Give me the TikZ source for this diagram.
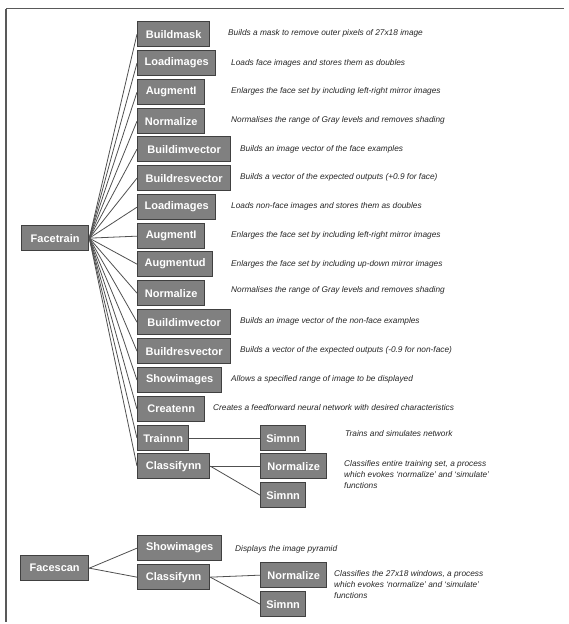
\documentclass[tikz,border=0pt]{standalone}
\usepackage{fontspec}
\setmainfont{Liberation Sans}
\definecolor{boxfill}{HTML}{808080}
\definecolor{boxline}{HTML}{404040}
\definecolor{wire}{HTML}{505050}
\begin{document}
\begin{tikzpicture}[x=1pt,y=-1pt,
  fbox/.style={draw=boxline,fill=boxfill,line width=1.3pt,text=white,
    font=\fontsize{11}{12}\selectfont\bfseries,inner sep=0pt,
    minimum height=25pt,anchor=north west},
  desc/.style={font=\fontsize{8.3}{11}\selectfont\itshape,anchor=west,inner sep=0pt,align=left,text=black!85},
  wirel/.style={draw=wire,line width=0.8pt}]
\useasboundingbox (0,0) rectangle (568,624);
\draw[gray!70!black,line width=1.2pt] (6,8.5) -- (564,8.5);
\draw[gray!70!black,line width=1.2pt] (6,8.5) -- (6,622);
% root nodes
\node[fbox,minimum width=67pt] (ft) at (21,225) {Facetrain};
\node[fbox,minimum width=68pt] (fs) at (20,555) {Facescan};
% facetrain children
\node[fbox,minimum width=72pt] (b1) at (137,21) {Buildmask};
\node[fbox,minimum width=78pt] (b2) at (137,50) {Loadimages};
\node[fbox,minimum width=67pt] (b3) at (137,79) {AugmentI};
\node[fbox,minimum width=67pt] (b4) at (137,108) {Normalize};
\node[fbox,minimum width=93pt] (b5) at (137,136) {Buildimvector};
\node[fbox,minimum width=93pt] (b6) at (137,165) {Buildresvector};
\node[fbox,minimum width=78pt] (b7) at (137,194) {Loadimages};
\node[fbox,minimum width=67pt] (b8) at (137,223) {AugmentI};
\node[fbox,minimum width=75pt] (b9) at (137,251) {Augmentud};
\node[fbox,minimum width=67pt] (b10) at (137,280) {Normalize};
\node[fbox,minimum width=93pt] (b11) at (137,309) {Buildimvector};
\node[fbox,minimum width=93pt] (b12) at (137,338) {Buildresvector};
\node[fbox,minimum width=84pt] (b13) at (137,367) {Showimages};
\node[fbox,minimum width=67pt] (b14) at (137,396) {Createnn};
\node[fbox,minimum width=51pt] (b15) at (137,425) {Trainnn};
\node[fbox,minimum width=72pt] (b16) at (137,453) {Classifynn};
% second level
\node[fbox,minimum width=45pt] (s1) at (260,425) {Simnn};
\node[fbox,minimum width=66pt] (n2) at (260,453) {Normalize};
\node[fbox,minimum width=45pt] (s2) at (260,482) {Simnn};
% facescan children
\node[fbox,minimum width=84pt] (c1) at (137,535) {Showimages};
\node[fbox,minimum width=72pt] (c2) at (137,564) {Classifynn};
\node[fbox,minimum width=66pt] (n3) at (260,562) {Normalize};
\node[fbox,minimum width=45pt] (s3) at (260,591) {Simnn};
% connectors
\foreach \b in {b1,b2,b3,b4,b5,b6,b7,b8,b9,b10,b11,b12,b13,b14,b15,b16}
  \draw[wirel] (ft.east) -- (\b.west);
\draw[wirel] (b15.east) -- (s1.west);
\draw[wirel] (b16.east) -- (n2.west);
\draw[wirel] (b16.east) -- (s2.west);
\draw[wirel] (fs.east) -- (c1.west);
\draw[wirel] (fs.east) -- (c2.west);
\draw[wirel] (c2.east) -- (n3.west);
\draw[wirel] (c2.east) -- (s3.west);
% descriptions
\node[desc] (d1) at (228,33) {Builds a mask to remove outer pixels of 27x18 image};
\node[desc] (d2) at (231,63) {Loads face images and stores them as doubles};
\node[desc] (d3) at (231,91) {Enlarges the face set by including left-right mirror images};
\node[desc] (d4) at (231,120) {Normalises the range of Gray levels and removes shading};
\node[desc] (d5) at (240,149) {Builds an image vector of the face examples};
\node[desc] (d6) at (240,177) {Builds a vector of the expected outputs (+0.9 for face)};
\node[desc] (d7) at (231,206) {Loads non-face images and stores them as doubles};
\node[desc] (d8) at (231,235) {Enlarges the face set by including left-right mirror images};
\node[desc] (d9) at (231,264) {Enlarges the face set by including up-down mirror images};
\node[desc] (d10) at (231,290) {Normalises the range of Gray levels and removes shading};
\node[desc] (d11) at (240,321) {Builds an image vector of the non-face examples};
\node[desc] (d12) at (240,350) {Builds a vector of the expected outputs (-0.9 for non-face)};
\node[desc] (d13) at (231,379) {Allows a specified range of image to be displayed};
\node[desc] (d14) at (213,408) {Creates a feedforward neural network with desired characteristics};
\node[desc] (d15) at (345,434) {Trains and simulates network};
\node[desc,anchor=north west] (d16) at (344,460) {Classifies entire training set, a process\\which evokes `normalize' and `simulate'\\functions};
\node[desc] (d17) at (235,549) {Displays the image pyramid};
\node[desc,anchor=north west] (d18) at (334,570) {Classifies the 27x18 windows, a process\\which evokes `normalize' and `simulate'\\functions};
\end{tikzpicture}
\end{document}
